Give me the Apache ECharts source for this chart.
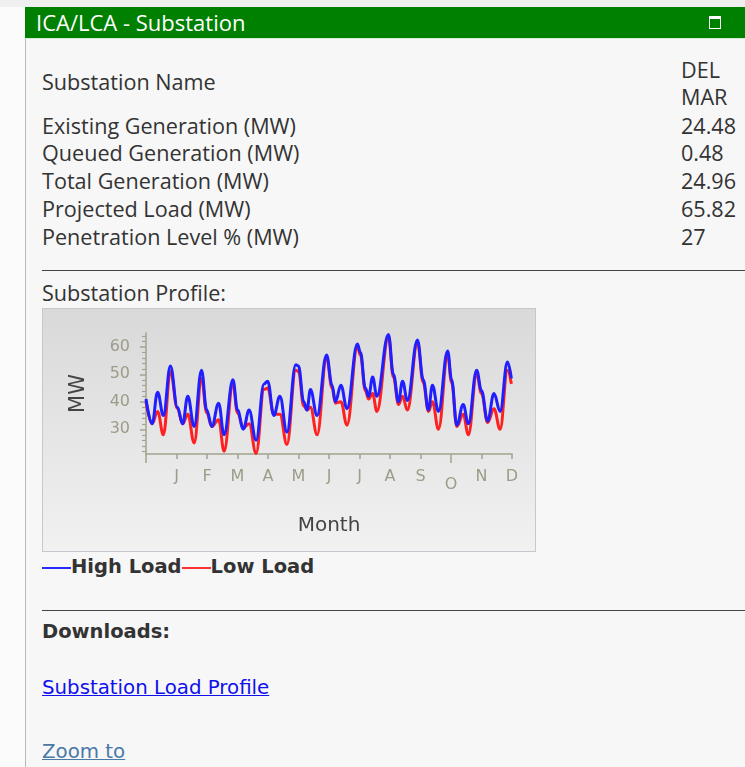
<!DOCTYPE html>
<html>
<head>
<meta charset="utf-8">
<script src="https://cdn.jsdelivr.net/npm/echarts@6/dist/echarts.min.js"></script>
<style>
  body { margin: 0; width: 745px; height: 767px; overflow: hidden; background: #fbfbfb; position: relative; }
  .panel { position: absolute; left: 25px; top: 7px; width: 720px; height: 760px; background: #f7f7f7; border-left: 1px solid #b9b9b9; }
  .topstrip { position: absolute; left: 0; top: 0; width: 745px; height: 7px; background: #efefef; }
  .header { position: absolute; left: 25px; top: 7px; width: 720px; height: 31px; background: #008000; border-bottom: 1px solid #d8e8d8; }
  .title { position: absolute; left: 36px; top: 7px; height: 31px; line-height: 31px; color: #fff; font-family: "Open Sans", sans-serif; font-size: 22px; }
  .maxicon { position: absolute; left: 709px; top: 16px; width: 10px; height: 9px; border: 1.5px solid #fff; border-top-width: 3px; }
  .txt { position: absolute; height: 28px; line-height: 28px; color: #333; font-family: "Open Sans", sans-serif; font-size: 21.6px; white-space: nowrap; }
  .rule { position: absolute; left: 42px; width: 703px; height: 0; border-top: 1px solid #444; }
  .bold { position: absolute; height: 28px; line-height: 28px; color: #333; font-family: "DejaVu Sans", Verdana, sans-serif; font-weight: bold; font-size: 19.5px; white-space: nowrap; }
  .link { position: absolute; height: 28px; line-height: 28px; font-family: "DejaVu Sans", Verdana, sans-serif; font-size: 19.8px; text-decoration: underline; white-space: nowrap; }
  #chart { position: absolute; left: 42px; top: 308px; width: 492px; height: 242px; border: 1px solid #c6c8d0; }
  .swatch { display: inline-block; width: 29px; height: 0; vertical-align: middle; border-top: 2px solid; }
</style>
</head>
<body>
<div class="topstrip"></div>
<div class="panel"></div>
<div class="header"></div>
<div class="title">ICA/LCA - Substation</div>
<div class="maxicon"></div>

<div id="info"></div>

<div class="rule" style="top:270px"></div>
<div class="txt" style="left:42px;top:279px">Substation Profile:</div>
<div id="chart"></div>
<div class="bold" style="left:42px;top:553px"><span class="swatch" style="border-color:#2a2aff"></span>High Load<span class="swatch" style="border-color:#ff3030"></span>Low Load</div>
<div class="rule" style="top:610px"></div>
<div class="bold" style="left:42px;top:618px">Downloads:</div>
<div class="link" style="left:42px;top:674px;color:#1010ee">Substation Load Profile</div>
<div class="link" style="left:42px;top:738px;color:#4a78a8">Zoom to</div>

<script>
// substation attributes
var infoLabels = ['Existing Generation (MW)', 'Queued Generation (MW)', 'Total Generation (MW)', 'Projected Load (MW)', 'Penetration Level % (MW)'];
var infoValues = ['24.48', '0.48', '24.96', '65.82', '27'];
var substationName = ['DEL', 'MAR'];

// load profile, x position in months (0 = start of Jan, 12 = end of Dec)
var monthPos = [0.00, 0.20, 0.38, 0.57, 0.80, 1.03, 1.20, 1.37, 1.58, 1.82, 1.99, 2.16, 2.38, 2.56, 2.85,
  3.00, 3.19, 3.38, 3.61, 3.87, 3.99, 4.19, 4.39, 4.62, 4.91, 5.00, 5.17, 5.28, 5.39, 5.61, 5.92,
  6.10, 6.21, 6.39, 6.59, 6.93, 7.03, 7.19, 7.30, 7.43, 7.57, 7.95, 8.11, 8.28, 8.41, 8.57, 8.90,
  9.09, 9.26, 9.39, 9.59, 9.89, 10.02, 10.19, 10.40, 10.57, 10.84, 11.00, 11.20, 11.41, 11.61, 11.85, 11.98];
var highLoad = [41, 32, 43.5, 35, 53, 38, 32, 42, 31, 51.5, 37, 31, 39.5, 28, 48,
  37, 30, 37, 26, 46.5, 47.5, 35, 42, 29, 53.5, 53, 40, 37, 44.5, 35, 57,
  46, 40, 46, 37.5, 61, 58, 45, 42, 49, 42, 64.5, 50, 40, 47.5, 40.5, 62.5,
  48, 37, 46, 36.5, 58.5, 48, 31.5, 39, 32, 51.5, 44, 33, 43, 36.5, 54.5, 48.5];
var lowLoad = [40, 32, 36.5, 28, 51, 37.5, 32, 35.5, 25, 48.5, 36, 31, 33.5, 22, 46.5,
  36, 30.5, 32, 21.2, 44.5, 45, 35.5, 35.5, 24.5, 51.5, 51, 38.5, 37, 38, 28, 56,
  45, 39.5, 40, 31.5, 60, 57, 44, 41, 43, 36.5, 63.5, 49, 39, 42, 37, 61.5,
  47, 36.5, 40, 30, 57, 47, 31, 35.5, 28, 50, 43, 32.5, 37.5, 30, 51.5, 46.5];

var monthLabels = ['J', 'F', 'M', 'A', 'M', 'J', 'J', 'A', 'S', 'O', 'N', 'D'];
var yLabels = [30, 40, 50, 60];
var yMinorTicks = [22, 24, 26, 28, 32, 34, 36, 38, 42, 44, 46, 48, 52, 54, 56, 58, 62, 64];

// info rows
var info = document.getElementById('info');
var html = '<div class="txt" style="left:42px;top:68px">Substation Name</div>';
html += '<div class="txt" style="left:681px;top:56px">' + substationName[0] + '</div>';
html += '<div class="txt" style="left:681px;top:83px">' + substationName[1] + '</div>';
var rowY = [126, 153, 181, 209, 237];
infoLabels.forEach(function (l, i) {
  html += '<div class="txt" style="left:42px;top:' + (rowY[i] - 14) + 'px">' + l + '</div>';
  html += '<div class="txt" style="left:681px;top:' + (rowY[i] - 14) + 'px">' + infoValues[i] + '</div>';
});
info.innerHTML = html;

var axisGrey = '#a3a38f';
var chart = echarts.init(document.getElementById('chart'));
var option = {
  animation: false,
  backgroundColor: new echarts.graphic.LinearGradient(0, 0, 0, 1, [
    { offset: 0, color: '#d9d9d9' },
    { offset: 1, color: '#f1f1f1' }
  ]),
  grid: { left: 103, right: 23, top: 24, bottom: 97 },
  xAxis: [{
    type: 'value', min: 0, max: 12, interval: 1,
    name: 'Month', nameLocation: 'middle', nameGap: 62,
    nameTextStyle: { fontFamily: 'DejaVu Sans', fontSize: 20, color: '#444' },
    axisLine: { lineStyle: { color: axisGrey, width: 1.5 } },
    axisTick: { length: 5, lineStyle: { color: axisGrey, width: 1.5 } },
    splitLine: { show: false },
    axisLabel: {
      margin: 15, color: '#9c9c88', fontFamily: 'DejaVu Sans', fontSize: 16,
      formatter: function (v) {
        if (v < 1) return '';
        var l = monthLabels[v - 1];
        return v === 10 ? '{o|' + l + '}' : l;
      },
      rich: { o: { padding: [8, 0, 0, 0], color: '#9c9c88', fontFamily: 'DejaVu Sans', fontSize: 16 } }
    }
  }, {
    // longer tick marks at the axis origin and October
    type: 'value', min: 0, max: 12, position: 'bottom',
    axisLine: { show: false }, splitLine: { show: false }, axisLabel: { show: false },
    axisTick: { show: true, length: 9, customValues: [0, 10], lineStyle: { color: axisGrey, width: 1.5 } }
  }],
  yAxis: [{
    type: 'value', min: 21, max: 65,
    name: 'MW', nameLocation: 'middle', nameGap: 57, nameRotate: 90,
    nameTextStyle: { fontFamily: 'DejaVu Sans', fontSize: 21, color: '#444' },
    axisLine: { show: true, lineStyle: { color: axisGrey, width: 1.5 } },
    axisTick: { show: true, length: 6, customValues: yLabels, lineStyle: { color: axisGrey, width: 1.5 } },
    splitLine: { show: false },
    axisLabel: { customValues: yLabels, margin: 16, color: '#9c9c88', fontFamily: 'DejaVu Sans', fontSize: 16 }
  }, {
    type: 'value', min: 21, max: 65, position: 'left',
    axisLine: { show: false }, splitLine: { show: false }, axisLabel: { show: false },
    axisTick: { show: true, length: 4, customValues: yMinorTicks, lineStyle: { color: axisGrey, width: 1.2 } }
  }],
  series: [{
    name: 'Low Load', type: 'line', smooth: 0.4, smoothMonotone: 'x', showSymbol: false,
    lineStyle: { color: '#ff2020', width: 3 },
    data: monthPos.map(function (x, i) { return [x, lowLoad[i]]; })
  }, {
    name: 'High Load', type: 'line', smooth: 0.4, smoothMonotone: 'x', showSymbol: false,
    lineStyle: { color: '#1f1fff', width: 3 },
    data: monthPos.map(function (x, i) { return [x, highLoad[i]]; })
  }]
};
chart.setOption(option);
</script>
</body>
</html>
